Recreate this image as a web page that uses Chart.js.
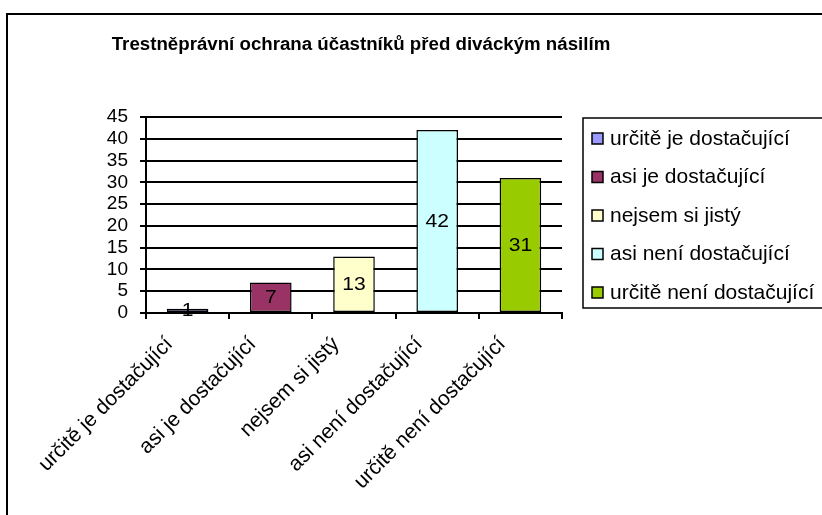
<!DOCTYPE html>
<html>
<head>
<meta charset="utf-8">
<script src="https://cdn.jsdelivr.net/npm/chart.js@4.4.0/dist/chart.umd.min.js"></script>
<style>
  html, body { margin: 0; padding: 0; background: #fff; }
  #wrap { width: 822px; height: 515px; position: relative; }
</style>
</head>
<body>
<div id="wrap"><canvas id="bar-graph" width="822" height="515"></canvas></div>
<script>
const chartTitle = 'Trestněprávní ochrana účastníků před diváckým násilím';
const categories = [
  'určitě je dostačující',
  'asi je dostačující',
  'nejsem si jistý',
  'asi není dostačující',
  'určitě není dostačující'
];
const values = [1, 7, 13, 42, 31];
const barColors = ['#9999FF', '#993366', '#FFFFCC', '#CCFFFF', '#99CC00'];
const yMax = 45;
const yStep = 5;

const FONT = 'Arial, "Liberation Sans", sans-serif';

// frame, title, value labels and the legend box
const extras = {
  id: 'extras',
  beforeDraw(chart) {
    const c = chart.ctx;
    c.save();
    c.fillStyle = '#fff';
    c.fillRect(0, 0, chart.width, chart.height);
    c.strokeStyle = '#000';
    c.lineWidth = 2;
    c.strokeRect(7, 14, 900, 600);
    c.restore();
  },
  afterDatasetsDraw(chart) {
    const c = chart.ctx;
    const meta = chart.getDatasetMeta(0);
    c.save();
    c.fillStyle = '#000';
    c.font = '17px ' + FONT;
    c.textAlign = 'center';
    c.textBaseline = 'middle';
    meta.data.forEach((bar, i) => {
      c.save();
      c.translate(bar.x, (bar.y + bar.base) / 2 + 1);
      c.scale(1.24, 1.05);
      c.fillText(String(values[i]), 0, 0);
      c.restore();
    });
    c.restore();
  },
  afterDraw(chart) {
    const c = chart.ctx;
    c.save();
    // title
    c.fillStyle = '#000';
    c.font = 'bold 18.7px ' + FONT;
    c.textAlign = 'center';
    c.textBaseline = 'middle';
    c.fillText(chartTitle, 361, 45);

    // legend
    const lx = 583, ly = 118, lw = 260, lh = 190;
    c.lineWidth = 1.5;
    c.strokeStyle = '#000';
    c.strokeRect(lx, ly, lw, lh);
    c.font = '21px ' + FONT;
    c.textAlign = 'left';
    categories.forEach((name, i) => {
      const cy = 138 + i * 38.5;
      c.fillStyle = barColors[i];
      c.fillRect(592, cy - 5, 11, 11);
      c.lineWidth = 1.5;
      c.strokeRect(592, cy - 5, 11, 11);
      c.fillStyle = '#000';
      c.fillText(name, 610, cy + 1);
    });
    c.restore();
  }
};

new Chart(document.getElementById('bar-graph'), {
  type: 'bar',
  data: {
    labels: categories,
    datasets: [{
      label: 'Počet',
      data: values,
      backgroundColor: barColors,
      borderColor: '#000',
      borderWidth: 1.5,
      borderSkipped: false,
      barPercentage: 1,
      categoryPercentage: 0.5
    }]
  },
  options: {
    responsive: false,
    animation: false,
    events: [],
    layout: { padding: { left: 100, right: 260, top: 117, bottom: 0 } },
    plugins: {
      legend: { display: false },
      title: { display: false },
      tooltip: { enabled: false }
    },
    scales: {
      x: {
        afterFit(scale) { scale.height = 202; },
        grid: {
          offset: true,
          drawOnChartArea: false,
          drawTicks: true,
          tickLength: 6,
          color: '#000',
          lineWidth: 2
        },
        border: { color: '#000', width: 2 },
        ticks: {
          color: '#000',
          font: { family: FONT, size: 21 },
          maxRotation: 45,
          minRotation: 45,
          padding: 13,
          labelOffset: -18,
          autoSkip: false
        }
      },
      y: {
        min: 0,
        max: yMax,
        afterFit(scale) { scale.width = 46; },
        grid: {
          color: '#000',
          lineWidth: 2,
          drawTicks: true,
          tickLength: 6
        },
        border: { color: '#000', width: 2 },
        ticks: {
          stepSize: yStep,
          autoSkip: false,
          color: '#000',
          font: { family: FONT, size: 19 },
          padding: 12
        }
      }
    }
  },
  plugins: [extras]
});
</script>
</body>
</html>
